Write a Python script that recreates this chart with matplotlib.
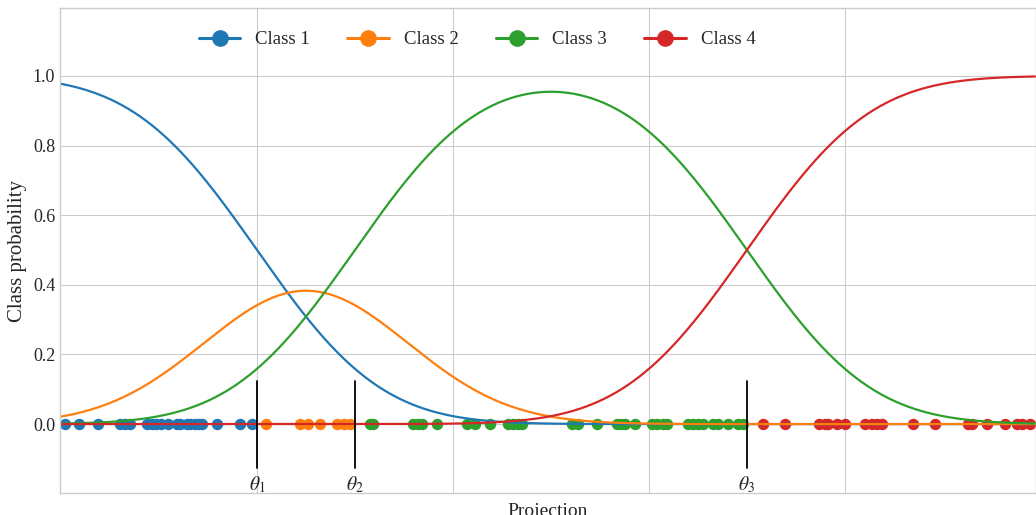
import math
import numpy as np
import matplotlib
matplotlib.use("Agg")
import matplotlib.pyplot as plt
from matplotlib.lines import Line2D

# projected samples, one list per class
class1_x = [-5.96, -5.82, -5.62, -5.40, -5.35, -5.30, -5.12, -5.07, -5.03, -4.98,
            -4.91, -4.82, -4.79, -4.71, -4.68, -4.63, -4.59, -4.56, -4.41, -4.17, -4.05]
class2_x = [-3.91, -3.56, -3.48, -3.36, -3.18, -3.11, -3.05]
class3_x = [-2.85, -2.82, -2.41, -2.36, -2.32, -2.16, -1.86, -1.78, -1.62, -1.44,
            -1.39, -1.34, -1.30, -0.78, -0.72, -0.53, -0.33, -0.28, -0.24, -0.14,
            0.03, 0.08, 0.14, 0.18, 0.40, 0.45, 0.50, 0.55, 0.65, 0.70, 0.81, 0.91, 0.96]
class4_x = [1.16, 1.39, 1.74, 1.80, 1.83, 1.92, 2.00, 2.20, 2.28, 2.33, 2.38,
            2.69, 2.92, 3.26, 3.30, 3.45, 3.63, 3.76, 3.81, 3.89]

# ordinal probit cut points
thresholds = [-4.0, -3.0, 1.0]
theta_labels = [r"$\theta_1$", r"$\theta_2$", r"$\theta_3$"]
class_names = ["Class 1", "Class 2", "Class 3", "Class 4"]
colors = ["tab:blue", "tab:orange", "tab:green", "tab:red"]

plt.style.use("seaborn-v0_8-whitegrid")
plt.rcParams["font.family"] = ["Liberation Serif", "DejaVu Serif"]
plt.rcParams["mathtext.fontset"] = "stix"
plt.rcParams["font.size"] = 13

x_min, x_max = -6.01, 3.95

fig = plt.figure(figsize=(10.36, 5.15), dpi=100)
ax = fig.add_axes([60 / 1036, 22 / 515, 976 / 1036, 485 / 515])

norm_cdf = np.vectorize(lambda v: 0.5 * (1 + math.erf(v / math.sqrt(2))))

# samples on the axis
for xs, c in zip([class1_x, class2_x, class3_x, class4_x], colors):
    ax.scatter(xs, np.zeros(len(xs)), s=52, color=c, zorder=1)

# P(y <= k) at each cut point, padded with 0 and 1
grid = np.linspace(x_min, x_max, 500)
cum = [np.zeros_like(grid)] + [norm_cdf(t - grid) for t in thresholds] + [np.ones_like(grid)]
for k in range(4):
    ax.plot(grid, cum[k + 1] - cum[k], color=colors[k], lw=1.6, zorder=2)

for t, lab in zip(thresholds, theta_labels):
    ax.plot([t, t], [-0.125, 0.125], color="black", lw=1.3, zorder=3)
    ax.text(t, -0.175, lab, ha="center", va="center", fontsize=14)

handles = [Line2D([0], [0], color=c, marker="o", markersize=11, lw=2.2) for c in colors]
ax.legend(handles, class_names, loc="upper left", ncol=4, frameon=False,
          bbox_to_anchor=(0.1347, 0.968), borderaxespad=0, fontsize=13.5,
          handlelength=2.2)

ax.set_xlim(x_min, x_max)
ax.set_ylim(-0.198, 1.195)
ax.set_xticks([-4, -2, 0, 2])
ax.set_xticklabels([])
ax.set_yticks([0.0, 0.2, 0.4, 0.6, 0.8, 1.0])
ax.set_xlabel("Projection", fontsize=14)
ax.set_ylabel("Class probability", fontsize=15)

fig.savefig("out.png", dpi=100)
